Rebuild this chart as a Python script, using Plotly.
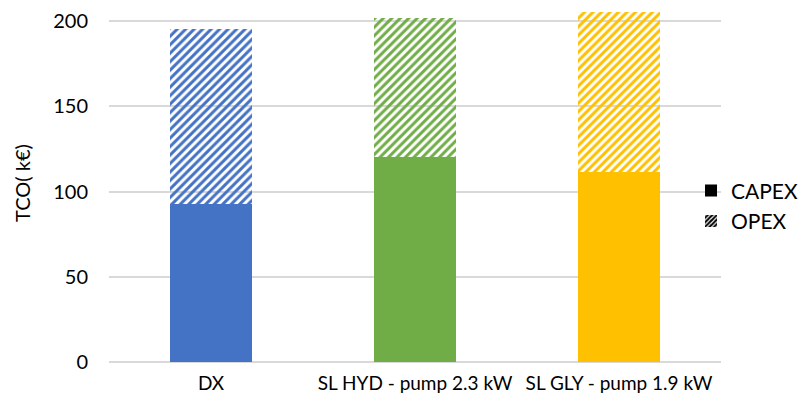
import plotly.graph_objects as go

# Total cost of ownership per system (k€), split into CAPEX and OPEX
systems = ["DX", "SL HYD - pump 2.3 kW", "SL GLY - pump 1.9 kW"]
capex = [92.4, 120.2, 111.4]
opex = [102.7, 81.4, 93.7]
bar_colors = ["#4472C4", "#70AD47", "#FFC000"]
y_ticks = [0, 50, 100, 150, 200]

FONT = "Lato"
TEXT = "#000000"
GRID = "#D9D9D9"

fig = go.Figure()

# CAPEX: solid fill
fig.add_trace(go.Bar(
    x=systems, y=capex, name="CAPEX", showlegend=False,
    marker=dict(color=bar_colors, line=dict(width=0)),
))

# OPEX: coloured diagonal stripes on white
fig.add_trace(go.Bar(
    x=systems, y=opex, name="OPEX", showlegend=False,
    marker=dict(
        color=bar_colors, line=dict(width=0),
        pattern=dict(shape="/", fgcolor=bar_colors, bgcolor="white",
                     size=6, solidity=0.5, fillmode="replace"),
    ),
))

# Legend keys in black
fig.add_trace(go.Bar(
    x=[systems[0]], y=[0], name="CAPEX", legendgroup="capex",
    marker=dict(color="black", line=dict(width=0)), hoverinfo="skip",
))
fig.add_trace(go.Bar(
    x=[systems[0]], y=[0], name="OPEX", legendgroup="opex",
    marker=dict(color="black", line=dict(width=0),
                pattern=dict(shape="/", fgcolor="black", bgcolor="white",
                             size=4, solidity=0.65, fillmode="replace")),
    hoverinfo="skip",
))

fig.update_layout(
    width=800, height=401,
    margin=dict(l=109, r=79, t=4, b=39, autoexpand=False),
    barmode="stack",
    bargap=0.6,
    plot_bgcolor="white",
    paper_bgcolor="white",
    font=dict(family=FONT, size=20, color=TEXT),
    legend=dict(
        x=0.951, xanchor="left", y=0.535, yanchor="top",
        bgcolor="rgba(0,0,0,0)", font=dict(size=21, color=TEXT),
        tracegroupgap=6, traceorder="normal",
    ),
    xaxis=dict(
        showgrid=False, showline=False, zeroline=False,
        tickfont=dict(size=19, color=TEXT),
        ticklabelstandoff=8,
    ),
    yaxis=dict(
        range=[0, 210],
        tickvals=y_ticks,
        showgrid=True, gridcolor=GRID, gridwidth=1.5,
        zeroline=True, zerolinecolor=GRID, zerolinewidth=1.5,
        showline=False,
        tickfont=dict(size=20, color=TEXT),
        ticklabelstandoff=20,
        title=dict(text="TCO( k€)", font=dict(size=20, color=TEXT), standoff=17),
    ),
)

fig.write_html("out.html")
